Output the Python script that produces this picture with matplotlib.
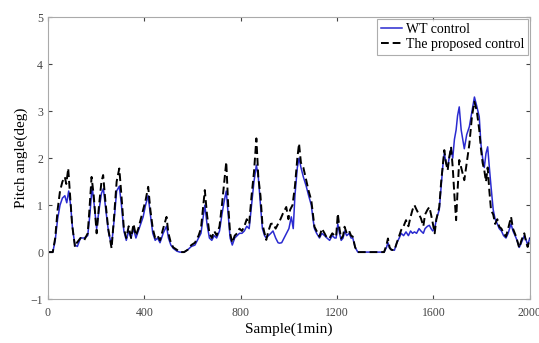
import matplotlib
matplotlib.use("Agg")
import matplotlib.pyplot as plt

# Proposed control (black dashed)
prop_s = [0, 20, 30, 40, 50, 60, 70, 76, 84, 92, 100, 112, 120, 135, 150, 165, 172, 181, 190, 202,
          212, 222, 229, 238, 250, 264, 275, 285, 296, 305, 315, 325, 335, 345, 355, 365, 375, 385, 395, 405,
          416, 425, 435, 445, 455, 465, 478, 492, 500, 510, 520, 535, 547, 565, 580, 595, 610, 625, 635, 643,
          651, 660, 670, 680, 690, 700, 712, 722, 732, 740, 748, 756, 765, 775, 785, 795, 805, 815, 825, 835,
          845, 855, 865, 873, 882, 890, 899, 906, 915, 925, 934, 945, 955, 965, 975, 989, 998, 1005, 1015, 1025,
          1035, 1042, 1050, 1060, 1072, 1082, 1093, 1100, 1106, 1115, 1127, 1137, 1148, 1158, 1169, 1180, 1190, 1196, 1203, 1210,
          1217, 1225, 1231, 1240, 1250, 1258, 1265, 1275, 1286, 1395, 1405, 1411, 1418, 1425, 1438, 1448, 1458, 1466, 1476, 1486,
          1496, 1505, 1513, 1521, 1530, 1540, 1548, 1558, 1565, 1575, 1583, 1590, 1597, 1605, 1612, 1624, 1632, 1640, 1645, 1652,
          1659, 1665, 1673, 1680, 1687, 1694, 1700, 1707, 1715, 1728, 1738, 1749, 1760, 1770, 1780, 1790, 1797, 1804, 1811, 1818,
          1825, 1832, 1839, 1848, 1856, 1865, 1873, 1882, 1891, 1901, 1910, 1922, 1930, 1943, 1950, 1956, 1965, 1977, 1985, 1991, 2000]
prop_v = [0, 0, 0.3, 0.9, 1.3, 1.5, 1.6, 1.45, 1.78, 1.2, 0.6, 0.11, 0.2, 0.3, 0.25, 0.4, 0.9, 1.6, 1.2, 0.4,
          1.0, 1.5, 1.64, 1.1, 0.5, 0.08, 0.8, 1.5, 1.78, 1.2, 0.5, 0.3, 0.55, 0.3, 0.6, 0.35, 0.5, 0.7, 0.9, 1.1,
          1.39, 0.9, 0.5, 0.3, 0.35, 0.25, 0.5, 0.75, 0.4, 0.2, 0.1, 0.05, 0.0, 0.0, 0.05, 0.15, 0.2, 0.35, 0.5, 0.9,
          1.32, 0.8, 0.4, 0.3, 0.45, 0.35, 0.55, 1.0, 1.5, 1.92, 1.0, 0.4, 0.2, 0.35, 0.4, 0.5, 0.45, 0.55, 0.7, 0.6,
          1.2, 1.7, 2.42, 1.6, 1.2, 0.6, 0.4, 0.26, 0.45, 0.6, 0.61, 0.5, 0.6, 0.7, 0.82, 0.96, 0.7, 0.9, 1.0, 1.4,
          2.0, 2.31, 1.9, 1.8, 1.53, 1.3, 1.1, 0.8, 0.54, 0.45, 0.33, 0.5, 0.4, 0.3, 0.3, 0.4, 0.35, 0.33, 0.82, 0.5,
          0.29, 0.35, 0.54, 0.4, 0.45, 0.35, 0.33, 0.1, 0.0, 0.0, 0.15, 0.29, 0.1, 0.05, 0.04, 0.2, 0.35, 0.47, 0.55, 0.68,
          0.55, 0.75, 0.9, 1.0, 0.9, 0.8, 0.72, 0.55, 0.8, 0.9, 0.96, 0.8, 0.62, 0.4, 0.7, 0.96, 1.5, 1.9, 2.17, 1.9,
          1.74, 2.0, 2.24, 1.8, 1.2, 0.68, 1.3, 1.96, 1.8, 1.53, 1.9, 2.3, 2.9, 3.2, 3.0, 2.6, 2.2, 1.9, 1.74, 1.5,
          1.8, 1.3, 0.89, 0.8, 0.6, 0.7, 0.54, 0.5, 0.4, 0.33, 0.5, 0.75, 0.5, 0.33, 0.2, 0.09, 0.25, 0.4, 0.2, 0.11, 0.3]

# WT control (blue solid)
wt_s = [0, 20, 30, 40, 50, 60, 70, 78, 86, 94, 102, 112, 122, 135, 150, 165, 174, 183, 192, 202,
        212, 222, 230, 240, 252, 264, 275, 285, 296, 305, 315, 325, 335, 345, 355, 365, 375, 385, 395, 405,
        416, 425, 435, 445, 455, 465, 478, 492, 500, 510, 520, 535, 547, 565, 580, 595, 610, 625, 635, 643,
        651, 660, 670, 680, 690, 700, 712, 722, 732, 740, 748, 756, 765, 775, 785, 795, 805, 815, 825, 835,
        845, 855, 865, 873, 882, 890, 899, 906, 915, 925, 934, 945, 955, 961, 970, 980, 990, 1000, 1010, 1018,
        1025, 1035, 1042, 1050, 1060, 1072, 1082, 1093, 1100, 1106, 1115, 1127, 1137, 1148, 1158, 1169, 1180, 1190, 1196, 1203,
        1210, 1217, 1225, 1231, 1240, 1250, 1258, 1265, 1275, 1286, 1395, 1405, 1411, 1418, 1425, 1438, 1448, 1458, 1466, 1476,
        1486, 1496, 1505, 1513, 1521, 1530, 1540, 1548, 1558, 1565, 1575, 1583, 1590, 1597, 1605, 1612, 1624, 1632, 1640, 1645,
        1652, 1659, 1665, 1673, 1680, 1687, 1694, 1700, 1707, 1715, 1728, 1738, 1749, 1760, 1770, 1780, 1790, 1797, 1804, 1811,
        1818, 1825, 1832, 1839, 1848, 1856, 1865, 1873, 1882, 1891, 1901, 1910, 1922, 1930, 1943, 1950, 1956, 1965, 1977, 1985, 1991, 2000]
wt_v = [0, 0, 0.25, 0.7, 1.0, 1.15, 1.2, 1.05, 1.3, 1.0, 0.5, 0.15, 0.12, 0.3, 0.3, 0.35, 0.8, 1.4, 1.0, 0.5,
        0.9, 1.25, 1.35, 0.9, 0.4, 0.15, 0.7, 1.3, 1.4, 1.0, 0.45, 0.25, 0.45, 0.3, 0.5, 0.3, 0.45, 0.6, 0.75, 1.0,
        1.2, 0.8, 0.4, 0.25, 0.3, 0.2, 0.4, 0.55, 0.3, 0.15, 0.08, 0.02, 0.0, 0.0, 0.05, 0.12, 0.15, 0.3, 0.4, 0.7,
        1.0, 0.6, 0.3, 0.25, 0.35, 0.3, 0.45, 0.8, 1.1, 1.3, 0.8, 0.3, 0.15, 0.3, 0.35, 0.4, 0.4, 0.45, 0.55, 0.5,
        1.0, 1.5, 1.85, 1.6, 1.0, 0.5, 0.35, 0.3, 0.35, 0.4, 0.45, 0.3, 0.2, 0.19, 0.2, 0.3, 0.4, 0.5, 0.75, 0.5,
        1.2, 1.8, 2.0, 1.8, 1.6, 1.4, 1.2, 1.0, 0.7, 0.5, 0.4, 0.3, 0.4, 0.35, 0.3, 0.25, 0.35, 0.3, 0.3, 0.6,
        0.4, 0.25, 0.3, 0.45, 0.35, 0.4, 0.3, 0.3, 0.1, 0.0, 0.0, 0.1, 0.2, 0.08, 0.05, 0.04, 0.2, 0.3, 0.4, 0.35,
        0.43, 0.35, 0.45, 0.4, 0.43, 0.4, 0.5, 0.45, 0.4, 0.5, 0.55, 0.57, 0.5, 0.45, 0.5, 0.7, 0.9, 1.4, 1.9, 2.1,
        1.9, 1.8, 2.0, 2.2, 2.0, 2.4, 2.6, 2.9, 3.09, 2.6, 2.2, 2.5, 2.67, 3.0, 3.3, 3.1, 2.88, 2.3, 2.0, 1.8,
        2.1, 2.24, 1.8, 1.39, 0.9, 0.7, 0.6, 0.5, 0.45, 0.35, 0.3, 0.4, 0.6, 0.45, 0.3, 0.2, 0.1, 0.2, 0.35, 0.25, 0.15, 0.3]

x_ticks = [0, 400, 800, 1200, 1600, 2000]
y_ticks = [-1, 0, 1, 2, 3, 4, 5]

plt.rcParams['font.family'] = ['Liberation Serif', 'DejaVu Serif']

fig = plt.figure(figsize=(5.39, 3.43), dpi=100)
ax = fig.add_axes([0.089, 0.128, 0.894, 0.822])

ax.plot(wt_s, wt_v, color='#2a2ad0', lw=1.1, label='WT control')
ax.plot(prop_s, prop_v, color='black', lw=1.4, ls=(0, (4, 2)), label='The proposed control')

ax.set_xlim(0, 2000)
ax.set_ylim(-1, 5)
ax.set_xticks(x_ticks)
ax.set_yticks(y_ticks)
ax.tick_params(direction='in', length=3, labelsize=8.5, colors='#444444', top=True, right=True)
ax.tick_params(axis='x', pad=6)
for sp in ax.spines.values():
    sp.set_color('#aaaaaa')
    sp.set_linewidth(0.8)

ax.set_xlabel('Sample(1min)', fontsize=11, labelpad=2)
ax.set_ylabel('Pitch angle(deg)', fontsize=11, labelpad=2)

leg = ax.legend(loc='upper right', fontsize=10, frameon=True, fancybox=False,
                borderpad=0.3, handlelength=1.5, handletextpad=0.3, labelspacing=0.15,
                borderaxespad=0.1)
leg.get_frame().set_edgecolor('#999999')
leg.get_frame().set_linewidth(0.8)

fig.savefig('out.png', dpi=100)
